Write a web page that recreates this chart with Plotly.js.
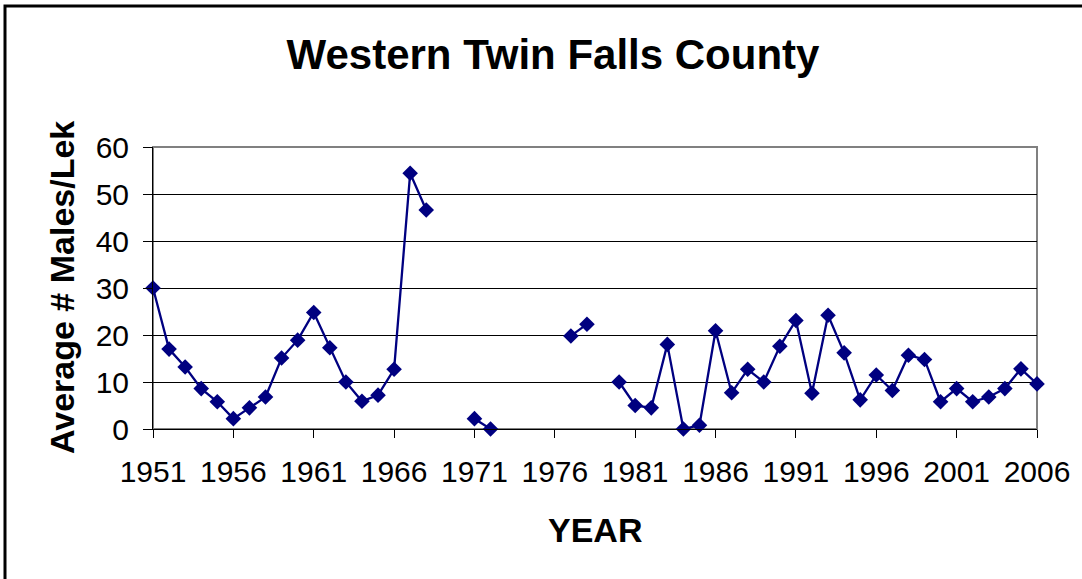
<!DOCTYPE html>
<html>
<head>
<meta charset="utf-8">
<script src="https://cdn.plot.ly/plotly-3.0.1.min.js"></script>
<style>
html,body{margin:0;padding:0;background:#fff;overflow:hidden;}
#chart{width:1082px;height:579px;}
</style>
</head>
<body>
<div id="chart"></div>
<script>
const chartTitle = "Western Twin Falls County";
const xTitle = "YEAR";
const yTitle = "Average # Males/Lek";
const years = [1951,1952,1953,1954,1955,1956,1957,1958,1959,1960,
  1961,1962,1963,1964,1965,1966,1967,1968,1969,1970,
  1971,1972,1973,1974,1975,1976,1977,1978,1979,1980,
  1981,1982,1983,1984,1985,1986,1987,1988,1989,1990,
  1991,1992,1993,1994,1995,1996,1997,1998,1999,2000,
  2001,2002,2003,2004,2005,2006];
const malesPerLek = [30,17,13.2,8.6,5.8,2.2,4.5,6.8,15.1,18.9,
  24.8,17.3,10,5.9,7.2,12.7,54.4,46.6,null,null,
  2.2,0,null,null,null,null,19.8,22.3,null,10,
  5,4.5,18,0,0.8,20.9,7.7,12.7,10,17.6,
  23.1,7.6,24.2,16.2,6.2,11.5,8.2,15.7,14.8,5.8,
  8.6,5.8,6.8,8.6,12.8,9.6];
const xTickVals = [1951,1956,1961,1966,1971,1976,1981,1986,1991,1996,2001,2006];
const yTickVals = [0,10,20,30,40,50,60];

const font = "Liberation Sans, Arial, sans-serif";
const L = 153, R = 45, T = 147, B = 150;
const pw = 1082 - L - R, ph = 579 - T - B;
const px2x = p => (p - L) / pw;
const py2y = p => (579 - B - p) / ph;

const trace = {
  x: years, y: malesPerLek, type: 'scatter', mode: 'lines+markers',
  connectgaps: false, cliponaxis: false,
  line: {color: '#000080', width: 2.3},
  marker: {symbol: 'diamond', size: 12, color: '#000080'},
  hoverinfo: 'x+y'
};

const layout = {
  width: 1082, height: 579,
  margin: {l: L, r: R, t: T, b: B, pad: 0},
  paper_bgcolor: '#fff', plot_bgcolor: '#fff',
  showlegend: false,
  font: {family: font, color: '#000'},
  title: {text: '<b>' + chartTitle + '</b>', font: {family: font, size: 42, color: '#000'},
          x: 553/1082, xanchor: 'center', xref: 'container', y: 1 - 54/579, yanchor: 'middle', yref: 'container'},
  xaxis: {
    range: [1951, 2006], tickvals: xTickVals, ticktext: xTickVals.map(String),
    showgrid: false, zeroline: false, showline: true, linecolor: '#000', linewidth: 1,
    ticks: 'outside', ticklen: 8, tickcolor: '#000', tickwidth: 1,
    ticklabelstandoff: 8,
    tickfont: {family: font, size: 30, color: '#000'}
  },
  yaxis: {
    range: [0, 60], tickvals: yTickVals, ticktext: yTickVals.map(String),
    showgrid: true, gridcolor: '#000', gridwidth: 1, zeroline: false,
    showline: true, linecolor: '#000', linewidth: 1,
    ticks: 'outside', ticklen: 9, tickcolor: '#000', tickwidth: 1,
    ticklabelstandoff: 8,
    tickfont: {family: font, size: 30, color: '#000'}
  },
  shapes: [
    {type: 'rect', xref: 'paper', yref: 'paper', x0: 0, x1: 1, y0: 0, y1: 1,
     line: {color: '#808080', width: 2}, layer: 'below'},
    {type: 'rect', xref: 'paper', yref: 'paper', x0: px2x(5), x1: px2x(1095), y0: py2y(600), y1: py2y(6),
     line: {color: '#000', width: 3}, fillcolor: 'rgba(0,0,0,0)'}
  ],
  annotations: [
    {text: '<b>' + yTitle + '</b>', xref: 'paper', yref: 'paper', x: px2x(62), y: py2y(288),
     xanchor: 'center', yanchor: 'middle', textangle: -90, showarrow: false,
     font: {family: font, size: 34, color: '#000'}},
    {text: '<b>' + xTitle + '</b>', xref: 'paper', yref: 'paper', x: px2x(595), y: py2y(530),
     xanchor: 'center', yanchor: 'middle', showarrow: false,
     font: {family: font, size: 34, color: '#000'}}
  ]
};

Plotly.newPlot('chart', [trace], layout, {displayModeBar: false, staticPlot: true});
</script>
</body>
</html>
